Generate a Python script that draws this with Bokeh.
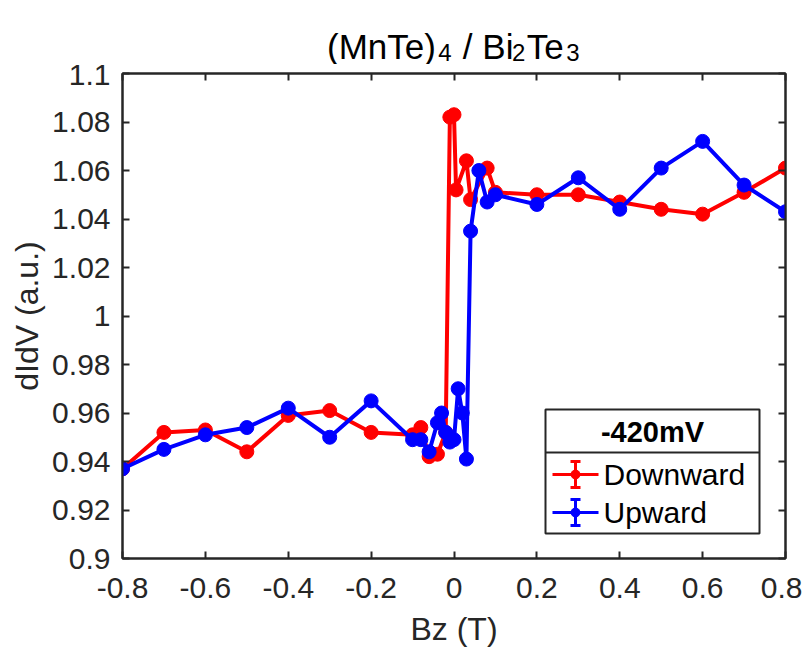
from bokeh.plotting import figure
from bokeh.models import LinearAxis, FixedTicker, Range1d
from bokeh.layouts import column
from bokeh.core.properties import value
from bokeh.embed import file_html
from bokeh.resources import INLINE

# ---- data ----
down_x = [-0.8, -0.7, -0.6, -0.5, -0.4, -0.3, -0.2, -0.1, -0.08, -0.06, -0.04, -0.02,
          -0.01, 0.0, 0.005, 0.03, 0.04, 0.08, 0.1, 0.2, 0.3, 0.4, 0.5, 0.6, 0.7, 0.8]
down_y = [0.937, 0.952, 0.953, 0.944, 0.959, 0.961, 0.952, 0.951, 0.954, 0.942, 0.943, 0.952,
          1.082, 1.083, 1.052, 1.064, 1.048, 1.061, 1.051, 1.050, 1.050, 1.047, 1.044, 1.042, 1.051, 1.061]

up_x = [-0.8, -0.7, -0.6, -0.5, -0.4, -0.3, -0.2, -0.1, -0.08, -0.06, -0.04, -0.03, -0.02,
        -0.01, 0.0, 0.01, 0.02, 0.03, 0.04, 0.06, 0.08, 0.1, 0.2, 0.3, 0.4, 0.5, 0.6, 0.7, 0.8]
up_y = [0.937, 0.945, 0.951, 0.954, 0.962, 0.950, 0.965, 0.949, 0.949, 0.944, 0.956, 0.960, 0.952,
        0.948, 0.949, 0.970, 0.960, 0.941, 1.035, 1.060, 1.047, 1.050, 1.046, 1.057, 1.044, 1.061,
        1.072, 1.054, 1.043]

x_ticks = [-0.8, -0.6, -0.4, -0.2, 0.0, 0.2, 0.4, 0.6, 0.8]
x_tick_labels = ["-0.8", "-0.6", "-0.4", "-0.2", "0", "0.2", "0.4", "0.6", "0.8"]
y_ticks = [0.9, 0.92, 0.94, 0.96, 0.98, 1.0, 1.02, 1.04, 1.06, 1.08, 1.1]
y_tick_labels = ["0.9", "0.92", "0.94", "0.96", "0.98", "1", "1.02", "1.04", "1.06", "1.08", "1.1"]

series_names = ["Downward", "Upward"]
legend_title = "-420mV"
# title pieces: (text, is_subscript)
title_parts = [("(MnTe)", False), ("4", True), (" / Bi", False), ("2", True), ("Te", False), ("3", True)]

FONT = "Liberation Sans"
AX = "#262626"
RED = "#ff0000"
BLUE = "#0000ff"

X0, X1 = -0.8, 0.8
Y0, Y1 = 0.9, 1.1
W = 802
TH = 64                      # title strip height
L, R, T, B = 122, 17, 73 - TH, 100
H = 658 - TH
FW, FH = W - L - R, H - T - B

# ---------------- title strip (same side borders as the plot, x in page pixels) ----------------
pt = figure(width=W, height=TH, title=None,
            x_range=Range1d(L, W - R), y_range=Range1d(TH, 0),
            output_backend="svg", toolbar_location=None,
            x_axis_location=None, y_axis_location=None,
            min_border_left=L, min_border_right=R, min_border_top=0, min_border_bottom=0,
            background_fill_color="white", border_fill_color="white")
pt.grid.visible = False
pt.outline_line_color = None

ARIAL_W = {"(": 333, ")": 333, "M": 833, "n": 556, "T": 611, "e": 556, " ": 278, "/": 278,
           "B": 667, "i": 222, "4": 556, "2": 556, "3": 556}
TF, SF = 35, 24
def text_w(s, size):
    return sum(ARIAL_W.get(c, 556) for c in s) / 1000.0 * size
total = sum(text_w(t, SF if sub else TF) for t, sub in title_parts)
xpos = L + FW / 2 - total / 2
for t, sub in title_parts:
    size = SF if sub else TF
    base = 52 if sub else 46
    lead = len(t) - len(t.lstrip(" "))
    x_draw = xpos + text_w(" " * lead, size) - (1.5 if sub else 0)
    pt.text(x=[x_draw], y=[base], text=[t.strip(" ")], text_font=value(FONT),
            text_font_size=f"{size}px", text_baseline="alphabetic",
            text_align="left", text_color="black")
    xpos += text_w(t, size)

# ---------------- main plot ----------------
p = figure(width=W, height=H, x_range=Range1d(X0, X1), y_range=Range1d(Y0, Y1),
           output_backend="svg", toolbar_location=None,
           min_border_left=L, min_border_right=R, min_border_top=T, min_border_bottom=B,
           background_fill_color="white", border_fill_color="white")
p.grid.visible = False
p.outline_line_color = AX
p.outline_line_width = 2

def style_axis(ax, ticks, labels, show_labels, standoff=12):
    ax.ticker = FixedTicker(ticks=ticks)
    ax.major_label_overrides = {t: l for t, l in zip(ticks, labels)}
    ax.axis_line_color = AX
    ax.axis_line_width = 2
    ax.major_tick_line_color = AX
    ax.major_tick_line_width = 2
    ax.major_tick_in = 7
    ax.major_tick_out = 0
    ax.minor_tick_line_color = None
    ax.major_label_text_font = FONT
    ax.major_label_text_color = "#262626"
    ax.axis_label_text_font = FONT
    ax.axis_label_text_font_style = "normal"
    ax.axis_label_text_color = "#262626"
    ax.axis_label_text_font_size = "32px"
    if show_labels:
        ax.major_label_text_font_size = "30px"
        ax.major_label_standoff = standoff
    else:
        ax.major_label_text_font_size = "0px"
        ax.major_label_standoff = 0

style_axis(p.xaxis[0], x_ticks, x_tick_labels, True, standoff=19)
style_axis(p.yaxis[0], y_ticks, y_tick_labels, True, standoff=12)
p.xaxis[0].axis_label = "Bz (T)"
p.xaxis[0].axis_label_standoff = 10
p.yaxis[0].axis_label = "dIdV (a.u.)"
p.yaxis[0].axis_label_standoff = 4

top_ax = LinearAxis()
right_ax = LinearAxis()
style_axis(top_ax, x_ticks, [""] * len(x_ticks), False)
style_axis(right_ax, y_ticks, [""] * len(y_ticks), False)
p.add_layout(top_ax, "above")
p.add_layout(right_ax, "right")

# data lines
p.line(down_x, down_y, line_color=RED, line_width=4)
p.scatter(down_x, down_y, marker="circle", size=14, fill_color=RED, line_color=RED)
p.line(up_x, up_y, line_color=BLUE, line_width=4)
p.scatter(up_x, up_y, marker="circle", size=14, fill_color=BLUE, line_color=BLUE)

# pixel position (in full-page coords) -> data coordinate, for the legend layout
def dx(px):
    return X0 + (px - L) / FW * (X1 - X0)

def dy(py):
    return Y1 - (py - TH - T) / FH * (Y1 - Y0)

p.quad(left=[dx(545)], right=[dx(759)], top=[dy(409)], bottom=[dy(533)],
       fill_color="white", line_color=AX, line_width=2)
p.segment(x0=[dx(545)], x1=[dx(759)], y0=[dy(452)], y1=[dy(452)], line_color=AX, line_width=2)
p.text(x=[dx(652)], y=[dy(431)], text=[legend_title], text_font=value(FONT),
       text_font_size="29px", text_font_style="bold", text_align="center",
       text_baseline="middle", text_color="black")

for name, col, yy in [(series_names[0], RED, 474), (series_names[1], BLUE, 512)]:
    p.segment(x0=[dx(552)], x1=[dx(598)], y0=[dy(yy)], y1=[dy(yy)], line_color=col, line_width=3)
    p.segment(x0=[dx(575)], x1=[dx(575)], y0=[dy(yy - 13)], y1=[dy(yy + 13)], line_color=col, line_width=3)
    p.segment(x0=[dx(570), dx(570)], x1=[dx(580), dx(580)], y0=[dy(yy - 13), dy(yy + 13)],
              y1=[dy(yy - 13), dy(yy + 13)], line_color=col, line_width=3)
    p.scatter([dx(575)], [dy(yy)], marker="circle", size=9, fill_color=col, line_color=col)
    p.text(x=[dx(603)], y=[dy(yy)], text=[name], text_font=value(FONT),
           text_font_size="30px", text_align="left", text_baseline="middle", text_color="black")

layout = column(pt, p, spacing=0)
open("out.html", "w").write(file_html(layout, INLINE))
